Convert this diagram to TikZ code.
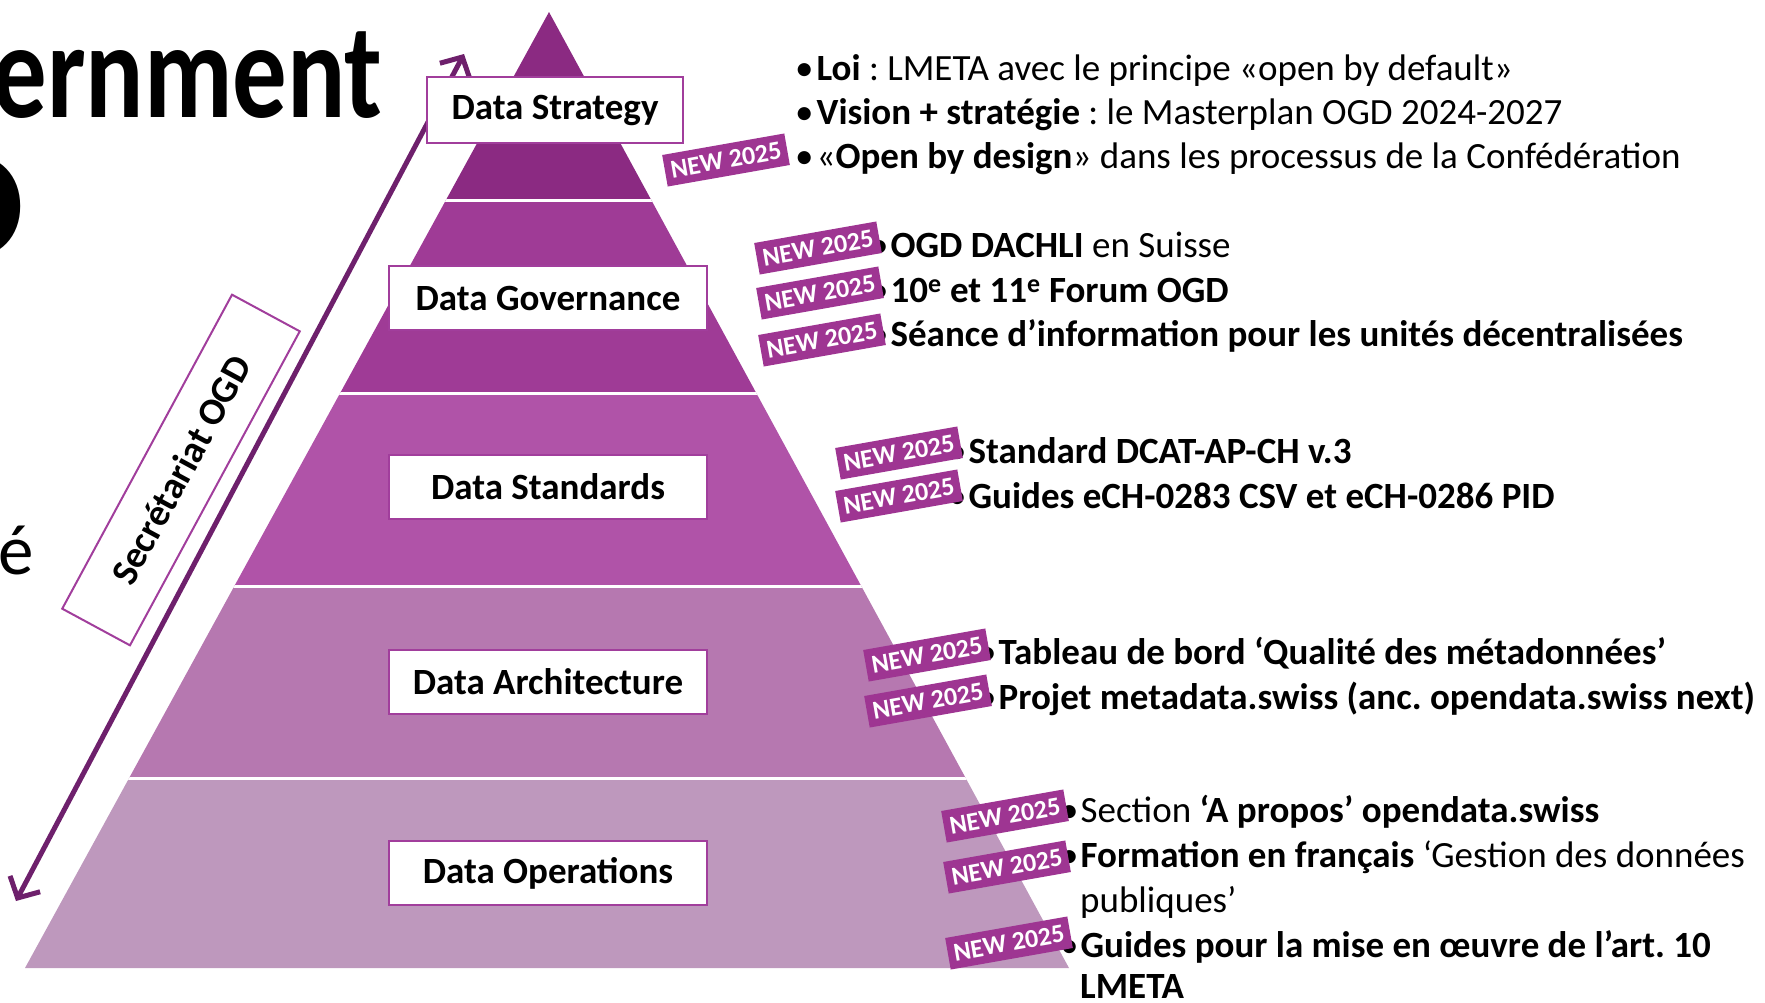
\documentclass[tikz,border=0pt]{standalone}
\usepackage{fontspec}
\setmainfont{Carlito}
\frenchspacing
\usetikzlibrary{arrows.meta}
\definecolor{ogdtop}{HTML}{8B2A82}
\definecolor{ogdgov}{HTML}{9F3B96}
\definecolor{ogdstd}{HTML}{B053A8}
\definecolor{ogdarch}{HTML}{B678B0}
\definecolor{ogdops}{HTML}{BE98BD}
\definecolor{ogdframe}{HTML}{A13E9C}
\definecolor{ogdbadge}{HTML}{9E3592}
\definecolor{ogdarrow}{HTML}{6E206C}
\tikzset{
	layer/.style={draw=ogdframe, line width=2.5pt, fill=white, minimum width=318pt, minimum height=64pt, inner sep=0pt, font=\fontsize{37}{40}\selectfont\bfseries},
	badge/.style={fill=ogdbadge, text=white, rotate=10, minimum width=124pt, minimum height=32pt, inner sep=0pt, font=\fontsize{26}{28}\selectfont\bfseries},
	item/.style={anchor=base west, inner sep=0pt, font=\fontsize{37}{44}\selectfont},
	barb/.tip={Straight Barb[length=16pt, width=34pt, line width=5pt]},
}
\begin{document}
\begin{tikzpicture}[x=1pt, y=-1pt]
	\useasboundingbox (0,0) rectangle (1765,1002);
	\clip (0,0) rectangle (1765,1002);

	\node[anchor=base east, inner sep=0pt, font=\fontsize{136}{140}\selectfont\bfseries] (title) at (383,117) {\scalebox{0.8}[1]{ernment}};
	\node[anchor=base east, inner sep=0pt, font=\fontsize{160}{160}\selectfont\bfseries] (ogd) at (25,258) {D};
	\node[anchor=base west, inner sep=0pt, font=\fontsize{71}{80}\selectfont] (acute) at (-2,574) {é};

	\coordinate (apex) at (549,12);
	\coordinate (baseL) at (25,968);
	\coordinate (baseR) at (1069,968);
	\begin{scope}
		\clip (apex) -- (baseL) -- (baseR) -- cycle;
		\foreach \c/\ya/\yb in {ogdtop/0/200, ogdgov/200/393, ogdstd/393/586, ogdarch/586/778, ogdops/778/1000}
			\fill[\c] (0,\ya) rectangle (1100,\yb);
		\foreach \y in {200,393,586,778}
			\draw[white, line width=3pt] (0,\y) -- (1100,\y);
	\end{scope}

	\coordinate (up) at (464,54);
	\coordinate (down) at (16,901);
	\draw[ogdarrow, line width=5pt, barb-barb] (down) -- (up);

	\node[layer, minimum width=256pt, minimum height=66pt] (strategy) at (555,110) {Data Strategy};
	\node[layer] (governance) at (548,298) {Data Governance};
	\node[layer] (standards) at (548,487) {Data Standards};
	\node[layer] (architecture) at (548,682) {Data Architecture};
	\node[layer] (operations) at (548,873) {Data Operations};

	\node[draw=ogdframe, line width=2pt, rotate=61.6, minimum width=357pt, minimum height=77pt, font=\fontsize{38}{40}\selectfont\bfseries] (secretariat) at (181,470) {Secrétariat OGD};

	\node[item] (loi) at (795,80) {•\hspace{3pt}\textbf{Loi} : LMETA avec le principe «open by default»};
	\node[item] (vision) at (795,124) {•\hspace{3pt}\textbf{Vision + stratégie} : le Masterplan OGD 2024-2027};
	\node[item] (design) at (795,168) {•\hspace{3pt}«\textbf{Open by design}» dans les processus de la Confédération};

	\node[item] (dachli) at (870,257) {•\hspace{2pt}\textbf{OGD DACHLI} en Suisse};
	\node[item] (forum) at (870,302) {•\hspace{2pt}\textbf{10\textsuperscript{e} et 11\textsuperscript{e} Forum OGD}};
	\node[item] (seance) at (870,346) {•\hspace{2pt}\textbf{Séance d’information pour les unités décentralisées}};

	\node[item] (dcat) at (948,463) {•\hspace{2pt}\textbf{Standard DCAT-AP-CH v.3}};
	\node[item] (ech) at (948,508) {•\hspace{2pt}\textbf{Guides eCH-0283 CSV et eCH-0286 PID}};

	\node[item] (tableau) at (978,664) {•\hspace{2pt}\textbf{Tableau de bord ‘Qualité des métadonnées’}};
	\node[item] (projet) at (978,709) {•\hspace{2pt}\textbf{Projet metadata.swiss (anc. opendata.swiss next)}};

	\node[item] (apropos) at (1060,822) {•\hspace{2pt}Section \textbf{‘A propos’ opendata.swiss}};
	\node[item] (formation) at (1060,867) {•\hspace{2pt}\textbf{Formation en français} ‘Gestion des données};
	\node[item] (publiques) at (1080,912) {publiques’};
	\node[item] (guides) at (1060,957) {•\hspace{2pt}\textbf{Guides pour la mise en œuvre de l’art. 10}};
	\node[item] (lmeta) at (1080,998) {\textbf{LMETA}};

	\foreach \x/\y [count=\i] in {726/160, 818/248, 820/293, 822/340, 899/453, 899/496, 927/655, 928/701, 1005/816, 1007/867, 1009/943}
		\node[badge] (new\i) at (\x,\y) {NEW 2025};
\end{tikzpicture}
\end{document}
